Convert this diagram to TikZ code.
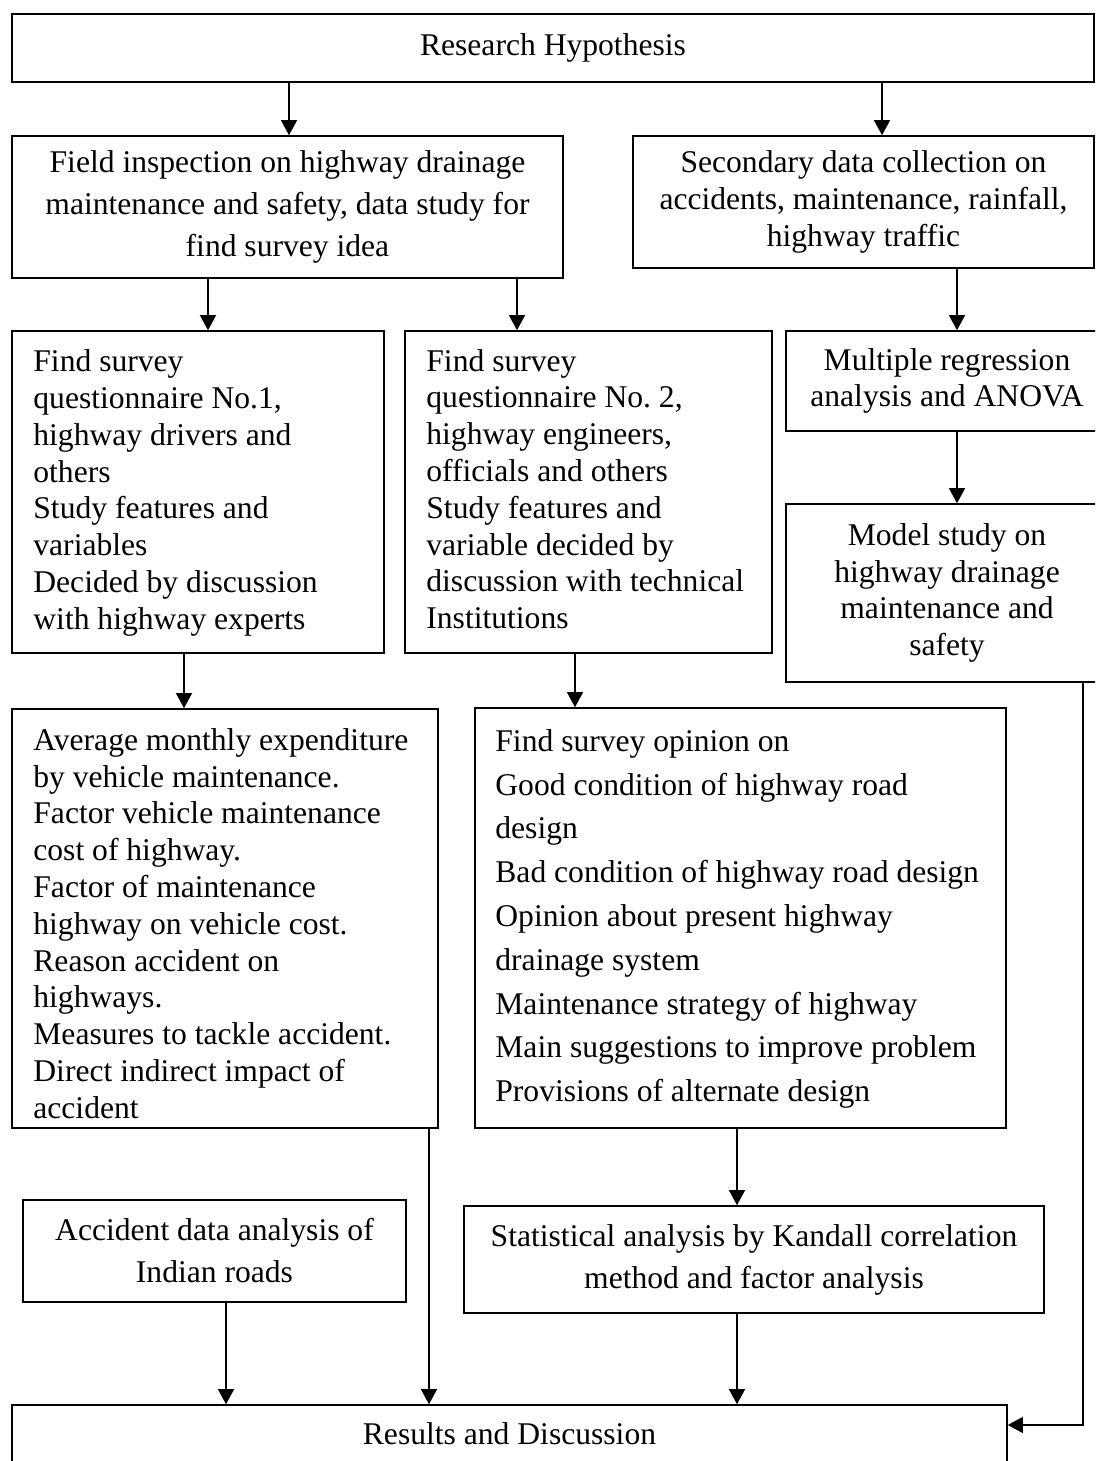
\documentclass[tikz,border=0pt]{standalone}
\usepackage{fontspec}
\setmainfont{Liberation Serif}
\usetikzlibrary{arrows.meta}
\begin{document}
\begin{tikzpicture}[x=1pt,y=-1pt,
  box/.style={draw, line width=1.6pt, rectangle, inner sep=0pt},
  txt/.style={inner sep=0pt, font=\fontsize{31.6}{36.8}\selectfont},
  arr/.style={line width=1.3pt, -{Triangle[width=16pt,length=15pt]}},
  ln/.style={line width=1.3pt}]
\useasboundingbox (0,0) rectangle (1095,1461);
\clip (0,0) rectangle (1095,1461);

% boxes
\node[box, txt, align=center, minimum width=1082pt, minimum height=68pt] (rh) at (553,48) {Research Hypothesis};
\node[box, txt, align=center, font=\fontsize{31.6}{42}\selectfont, minimum width=551pt, minimum height=142pt] (field) at (287.5,207)
  {Field inspection on highway drainage\\maintenance and safety, data study for\\find survey idea};
\node[box, txt, align=center, minimum width=461pt, minimum height=132pt] (sec) at (863.5,202)
  {Secondary data collection on\\accidents, maintenance, rainfall,\\highway traffic};
\node[box, minimum width=372pt, minimum height=322pt] (s1) at (198,492) {};
\node[txt, align=left, anchor=west] (s1t) at ([xshift=22pt,yshift=-1pt]s1.west)
  {Find survey\\questionnaire No.1,\\highway drivers and\\others\\Study features and\\variables\\Decided by discussion\\with highway experts};
\node[box, minimum width=367pt, minimum height=322pt] (s2) at (588.5,492) {};
\node[txt, align=left, anchor=west] (s2t) at ([xshift=22pt,yshift=3pt]s2.west)
  {Find survey\\questionnaire No.\ 2,\\highway engineers,\\officials and others\\Study features and\\variable decided by\\discussion with technical\\Institutions};
\node[box, txt, align=center, minimum width=322pt, minimum height=100pt] (mr) at (947,381)
  {Multiple regression\\analysis and ANOVA};
\node[box, txt, align=center, minimum width=322pt, minimum height=178pt] (model) at (947,593)
  {Model study on\\highway drainage\\maintenance and\\safety};
\node[box, minimum width=426pt, minimum height=419pt] (avg) at (225,918.5) {};
\node[txt, align=left, anchor=west] (avgt) at ([xshift=22pt,yshift=-5pt]avg.west)
  {Average monthly expenditure\\by vehicle maintenance.\\Factor vehicle maintenance\\cost of highway.\\Factor of maintenance\\highway on vehicle cost.\\Reason accident on\\highways.\\Measures to tackle accident.\\Direct indirect impact of\\accident};
\node[box, minimum width=531pt, minimum height=420pt] (op) at (740.5,918) {};
\node[txt, align=left, anchor=west, font=\fontsize{31.6}{43.8}\selectfont] (opt) at ([xshift=21pt,yshift=-1pt]op.west)
  {Find survey opinion on\\Good condition of highway road\\design\\Bad condition of highway road design\\Opinion about present highway\\drainage system\\Maintenance strategy of highway\\Main suggestions to improve problem\\Provisions of alternate design};
\node[box, txt, align=center, font=\fontsize{31.6}{42}\selectfont, minimum width=383pt, minimum height=102pt] (acc) at (214.5,1251)
  {Accident data analysis of\\Indian roads};
\node[box, txt, align=center, font=\fontsize{31.6}{42}\selectfont, minimum width=580pt, minimum height=107pt] (stat) at (754,1259.5)
  {Statistical analysis by Kandall correlation\\method and factor analysis};
\node[box, txt, align=center, minimum width=995pt, minimum height=58pt] (res) at (509.5,1434) {Results and Discussion};

% connector x positions
\coordinate (a1) at (289,0);
\coordinate (a2) at (882,0);
\coordinate (a3) at (208,0);
\coordinate (a4) at (517,0);
\coordinate (a5) at (957,0);
\coordinate (a6) at (184,0);
\coordinate (a7) at (575,0);
\coordinate (a8) at (737,0);
\coordinate (a9) at (429,0);
\coordinate (a10) at (226,0);
\coordinate (c2) at (1083,1425);

\draw[arr] (rh.south -| a1) -- (field.north -| a1);
\draw[arr] (rh.south -| a2) -- (sec.north -| a2);
\draw[arr] (field.south -| a3) -- (s1.north -| a3);
\draw[arr] (field.south -| a4) -- (s2.north -| a4);
\draw[arr] (sec.south -| a5) -- (mr.north -| a5);
\draw[arr] (mr.south -| a5) -- (model.north -| a5);
\draw[arr] (s1.south -| a6) -- (avg.north -| a6);
\draw[arr] (s2.south -| a7) -- (op.north -| a7);
\draw[arr] (op.south -| a8) -- (stat.north -| a8);
\draw[arr] (avg.south -| a9) -- (res.north -| a9);
\draw[arr] (acc.south -| a10) -- (res.north -| a10);
\draw[arr] (stat.south -| a8) -- (res.north -| a8);
\draw[arr] (model.south -| c2) -- (c2) -- (res.east |- c2);
\end{tikzpicture}
\end{document}
